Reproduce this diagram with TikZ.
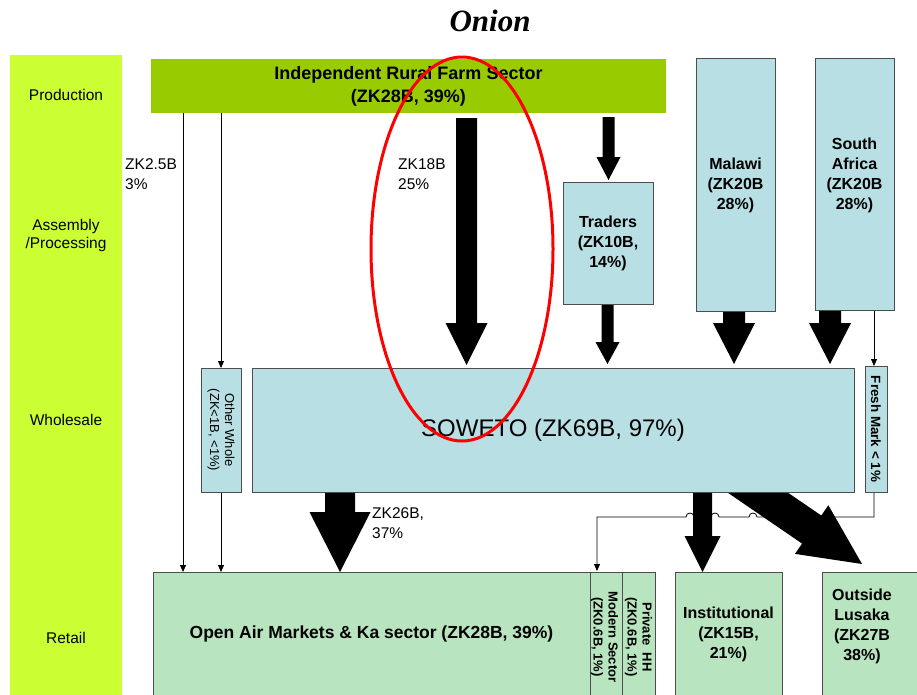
\documentclass[tikz,border=0pt]{standalone}
\usepackage{fontspec}
\setmainfont{Liberation Sans}
\newfontfamily\titlefont{Liberation Serif}
\usetikzlibrary{calc,arrows.meta}
\pgfdeclarelayer{bg}
\pgfsetlayers{bg,main}
\definecolor{sidegreen}{HTML}{CCFF33}
\definecolor{farmgreen}{HTML}{99CC00}
\definecolor{lblue}{RGB}{184,223,227}
\definecolor{rgreen}{RGB}{185,228,192}
\definecolor{bordergray}{HTML}{4D4D4D}
\newcommand\fs[2]{\fontsize{#1}{#2}\selectfont}
\newcommand\boxat[7]{\node[#6, minimum width={(#4-#2)*1pt}, minimum height={(#5-#3)*1pt}] (#1) at ({(#2+#4)/2},{(#3+#5)/2}) {#7};}
\newcommand\fatarrow[5]{%
  \coordinate (fab) at ($(#2)!#5!(#1)$);
  \fill[fatfill] ($(#1)!#3!90:(#2)$) -- ($(fab)!#3!90:(#2)$) -- ($(fab)!#4!90:(#2)$) -- (#2)
    -- ($(fab)!#4!-90:(#2)$) -- ($(fab)!#3!-90:(#2)$) -- ($(#1)!#3!-90:(#2)$) -- cycle;}
\newcommand\hop[2]{.. controls (#1+4,#2-5.3) and (#1-4,#2-5.3) .. (#1-4,#2)}
\begin{document}
\begin{tikzpicture}[x=1pt,y=-1pt,
  box/.style={draw=bordergray, line width=0.8pt, inner sep=0pt, outer sep=0pt, align=center},
  bluebox/.style={box, fill=lblue},
  greenbox/.style={box, fill=rgreen},
  plain/.style={inner sep=0pt, outer sep=0pt, align=center},
  btxt/.style={font=\bfseries\fs{16}{20}, align=center, inner sep=0pt},
  ntxt/.style={font=\fs{15.5}{20.5}, align=left, inner sep=0pt, anchor=west},
  stxt/.style={font=\fs{15.5}{18}, align=center, inner sep=0pt},
  tarr/.style={line width=0.8pt, -{Triangle[length=7pt,width=6pt]}},
  tline/.style={line width=0.8pt},
  fatfill/.style={fill=black}
]
\useasboundingbox (0,0) rectangle (917,694);

% stage column and production bar
\boxat{side}{10}{55}{122}{700}{plain, fill=sidegreen}{}
\boxat{farm}{151}{59}{666}{113}{plain, fill=farmgreen, font=\bfseries\fs{18}{23}}{Independent Rural Farm Sector\\(ZK28B, 39\%)}

\node[stxt] (lprod) at (66,95) {Production};
\node[stxt] (lasm) at (66,235) {Assembly\\/Processing};
\node[stxt] (lwhole) at (66,420) {Wholesale};
\node[stxt] (lret) at (66,638) {Retail};

% boxes
\boxat{malawi}{696}{58}{775}{311}{bluebox}{}
\boxat{safrica}{815}{58}{894}{310}{bluebox}{}
\node[btxt] (tmalawi) at (735.5,185) {Malawi\\(ZK20B\\28\%)};
\node[btxt] (tsafrica) at (854.5,175) {South\\Africa\\(ZK20B\\28\%)};
\boxat{traders}{563}{182}{653}{304}{bluebox, font=\bfseries\fs{16}{20}}{Traders\\(ZK10B,\\14\%)}
\boxat{soweto}{252}{368}{854}{492}{bluebox, font=\fs{24}{28}}{SOWETO (ZK69B, 97\%)}
\boxat{other}{201}{368}{241}{492}{bluebox}{}
\node[plain, rotate=-90, font=\fs{13}{15}] (tother) at (other.center) {Other Whole\\(ZK<1B, <1\%)};
\boxat{fresh}{865}{366}{887}{492}{bluebox}{}
\node[plain, rotate=-90, font=\bfseries\fs{13.4}{15}] (tfresh) at (fresh.center) {Fresh Mark < 1\%};

\boxat{openair}{153}{572}{590}{696}{greenbox, font=\bfseries\fs{17.5}{21}}{Open Air Markets \& Ka sector (ZK28B, 39\%)}
\boxat{modern}{590}{572}{622}{696}{greenbox}{}
\node[plain, rotate=-90, font=\bfseries\fs{13}{15}] (tmodern) at ($(modern.center)+(-1.5,3)$) {Modern Sector\\(ZK0.6B, 1\%)};
\boxat{private}{622}{572}{655}{696}{greenbox}{}
\node[plain, rotate=-90, font=\bfseries\fs{13}{15}] (tprivate) at ($(private.center)+(0,3)$) {Private\ \ HH\\(ZK0.6B, 1\%)};
\boxat{inst}{675}{572}{782}{696}{greenbox, font=\bfseries\fs{16}{20}}{Institutional\\(ZK15B,\\21\%)}
\boxat{outside}{822}{572}{925}{696}{greenbox}{}
\node[btxt] (toutside) at (862,626) {Outside\\Lusaka\\(ZK27B\\38\%)};

% flow labels
\node[ntxt] (l25) at (125,174) {ZK2.5B\\3\%};
\node[ntxt] (l18) at (398,174) {ZK18B\\25\%};
\node[ntxt] (l26) at (372,523) {ZK26B,\\37\%};

% title
\node[plain, font=\titlefont\bfseries\itshape\fs{31}{34}] (title) at (490,21) {Onion};

\begin{pgfonlayer}{bg}
  % thin connectors
  \draw[tarr] ([xshift=32pt]farm.south west) -- ([xshift=30pt]openair.north west);
  \draw[tarr] ([xshift=70pt]farm.south west) -- (other.north);
  \draw[tarr] (other.south) -- ([xshift=68pt]openair.north west);
  \draw[tarr] ([xshift=59pt]safrica.south west) -- ([xshift=9pt]fresh.north west);
  \coordinate (fm1) at (874,517);
  \coordinate (fm2) at (597,517);
  \draw[tarr] ([xshift=9pt]fresh.south west) -- (fm1) -- (757,517) \hop{753}{517} -- (719,517) \hop{715}{517}
     -- (694,517) \hop{690}{517} -- (fm2) -- ([xshift=7pt,yshift=1pt]modern.north west);

  % fat arrows
  \coordinate (a1s) at (466.5,118);  \coordinate (a1e) at (466.5,365);
  \fatarrow{a1s}{a1e}{10.5pt}{21pt}{42pt}
  \coordinate (a2s) at (608.5,117);  \coordinate (a2e) at (608.5,180);
  \fatarrow{a2s}{a2e}{6pt}{12pt}{23pt}
  \coordinate (a3s) at (607.5,304);  \coordinate (a3e) at (607.5,364);
  \fatarrow{a3s}{a3e}{6pt}{12pt}{22pt}
  \coordinate (a4s) at (734,311);  \coordinate (a4e) at (734,364);
  \fatarrow{a4s}{a4e}{11pt}{21pt}{41pt}
  \coordinate (a5s) at (830,310);  \coordinate (a5e) at (830,364);
  \fatarrow{a5s}{a5e}{11pt}{21pt}{41pt}
  \coordinate (a6s) at (340,492);  \coordinate (a6e) at (340,572);
  \fatarrow{a6s}{a6e}{15pt}{30.5pt}{60pt}
  \coordinate (a7s) at (702.5,492);  \coordinate (a7e) at (702.5,572);
  \fatarrow{a7s}{a7e}{9.5pt}{18pt}{36pt}
  \coordinate (a8s) at (732,475);  \coordinate (a8e) at (862,564);
  \fatarrow{a8s}{a8e}{17pt}{29.5pt}{61pt}
\end{pgfonlayer}

% highlight
\draw[red, line width=3pt] (462,249) ellipse [x radius=91pt, y radius=192pt];
\end{tikzpicture}
\end{document}
